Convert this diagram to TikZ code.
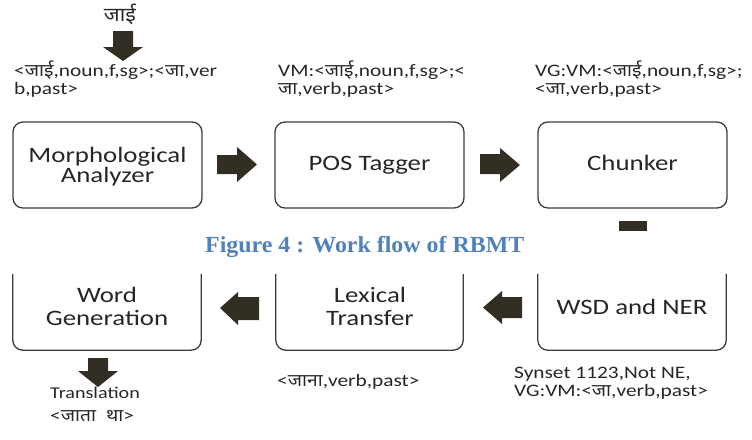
\documentclass[tikz,border=0pt]{standalone}
\usepackage{fontspec}
\setmainfont[FakeStretch=1.22]{Carlito}
\newfontfamily\dev[Script=Devanagari,FakeStretch=1.1]{Noto Sans}
\newfontfamily\capfont[FakeStretch=1.04]{Liberation Serif}
\definecolor{arrowc}{RGB}{51,46,36}
\definecolor{boxc}{RGB}{60,60,60}
\definecolor{capblue}{RGB}{79,129,189}
\definecolor{txt}{RGB}{38,38,38}
\begin{document}
\begin{tikzpicture}[x=1pt,y=-1pt,
  stage/.style={draw=boxc,line width=1.3pt,rounded corners=10pt,minimum width=189pt,minimum height=86pt,inner sep=0pt},
  openbox/.style={minimum width=188pt,minimum height=76pt,inner sep=0pt},
  boxline/.style={draw=boxc,line width=1.3pt,rounded corners=10pt},
  lbl/.style={font=\fontsize{22}{22}\selectfont,text=txt,inner sep=0pt,anchor=base},
  note/.style={font=\fontsize{17.5}{19}\selectfont,text=txt,inner sep=0pt,anchor=base west},
  blk/.style={fill=arrowc,draw=none}]
\useasboundingbox (0,0) rectangle (752,439);
% top stages
\node[stage] (morph) at (107.5,165) {};
\node[stage] (pos) at (369.5,165) {};
\node[stage] (chunk) at (632.5,165) {};
\node[lbl] (morphA) at (107.5,162) {Morphological};
\node[lbl] (morphB) at (107.5,182) {Analyzer};
\node[lbl] (posL) at (369.5,170) {POS Tagger};
\node[lbl] (chunkL) at (632.5,170) {Chunker};
% bottom stages (open at top)
\node[openbox] (wg) at (107,312) {};
\node[openbox,minimum width=187pt] (lex) at (369.5,312) {};
\node[openbox] (wsd) at (632,312) {};
\draw[boxline] (wg.north west) -- (wg.south west) -- (wg.south east) -- (wg.north east);
\draw[boxline] (lex.north west) -- (lex.south west) -- (lex.south east) -- (lex.north east);
\draw[boxline] (wsd.north west) -- (wsd.south west) -- (wsd.south east) -- (wsd.north east);
\node[lbl] (wgA) at (107,302) {Word};
\node[lbl] (wgB) at (107,325) {Generation};
\node[lbl] (lexA) at (370,302) {Lexical};
\node[lbl] (lexB) at (370,325) {Transfer};
\node[lbl] (wsdL) at (632,314) {WSD and NER};
% block arrows
\fill[blk] (217,155) -- (237,155) -- (237,147) -- (257,164.5) -- (237,182) -- (237,174) -- (217,174) -- cycle;
\fill[blk] (480,154) -- (500,154) -- (500,148) -- (520,165) -- (500,182) -- (500,174) -- (480,174) -- cycle;
\fill[blk] (259,297) -- (238,297) -- (238,292) -- (220,308) -- (238,325) -- (238,320) -- (259,320) -- cycle;
\fill[blk] (522,297) -- (502,297) -- (502,291) -- (483,307.5) -- (502,324) -- (502,318) -- (522,318) -- cycle;
\fill[blk] (88,358) -- (108,358) -- (108,371) -- (118,371) -- (98,387) -- (78,371) -- (88,371) -- cycle;
\fill[blk] (113,31) -- (133,31) -- (133,47) -- (143,47) -- (123,61) -- (103,47) -- (113,47) -- cycle;
\fill[blk] (619,221) rectangle (647,231);
% annotations
\node[font=\dev\fontsize{19.5}{19.5}\selectfont,text=txt,inner sep=0pt,anchor=base] (inw) at (120,21) {जाई};
\node[note] (in1) at (14,76) {<{\dev जाई},noun,f,sg>;<{\dev जा},ver};
\node[note] (in2) at (14,94) {b,past>};
\node[note] (pos1) at (278,76) {VM:<{\dev जाई},noun,f,sg>;<};
\node[note] (pos2) at (278,94) {{\dev जा},verb,past>};
\node[note] (ch1) at (535,76) {VG:VM:<{\dev जाई},noun,f,sg>;};
\node[note] (ch2) at (535,94) {<{\dev जा},verb,past>};
\node[note] (lx1) at (277,386) {<{\dev जाना},verb,past>};
\node[note] (ws1) at (514,378) {Synset 1123,Not NE,};
\node[note] (ws2) at (514,396) {VG:VM:<{\dev जा},verb,past>};
\node[note,font=\fontsize{16.5}{16.5}\selectfont] (tr) at (50,398) {Translation};
\node[note] (out) at (50,421) {<{\dev जाता\ \ था}>};
% caption
\node[font=\capfont\bfseries\fontsize{23}{23}\selectfont,text=capblue,anchor=base west,inner sep=0pt] (cap) at (205,252) {Figure 4 : Work flow of RBMT};
\end{tikzpicture}
\end{document}
